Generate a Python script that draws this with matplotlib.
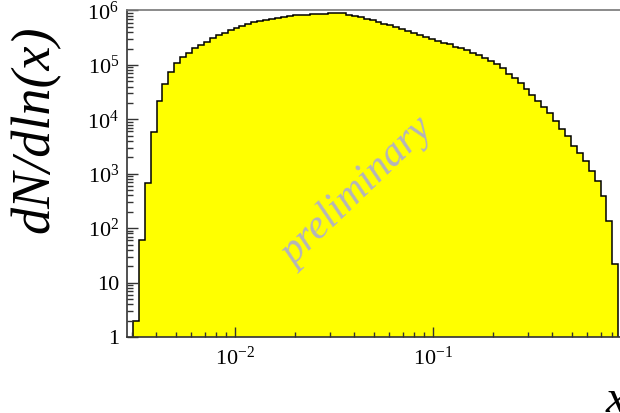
import numpy as np
from matplotlib import pyplot as plt

plt.rcParams['font.family'] = ['Liberation Serif', 'DejaVu Serif']
plt.rcParams['mathtext.fontset'] = 'custom'
plt.rcParams['mathtext.rm'] = 'Liberation Serif'
plt.rcParams['mathtext.it'] = 'Liberation Serif:italic'

#============================================================================
# dados lidos do histograma (82 bins logaritmicos)
#============================================================================
log_x_min = -2.5167     # borda esquerda do primeiro bin
log_x_max = -0.0657     # borda direita do ultimo bin
n_bins = 82

contagens = [
    2.0, 61, 670, 5800, 21800, 45300, 73400, 107500, 137400, 168300,
    202800, 233300, 268000, 309600, 355800, 392600, 439800, 485000, 527600, 567100,
    605000, 640000, 675000, 705000, 735000, 770000, 795000, 812000, 828000, 843000,
    856000, 868000, 878000, 888000, 905000, 905000, 840000, 790000, 760000, 709800,
    680500, 625200, 574300, 537000, 493300, 453100, 421700, 382800, 355800, 331300,
    296500, 276100, 257200, 240300, 216800, 202800, 188800, 164100, 149600, 131600,
    115900, 102100, 86900, 68300, 57000, 46100, 35700, 28100, 21800, 17100,
    12900, 9460, 6580, 4950, 3240, 2380, 1720, 1140, 738, 396,
    136, 21.7,
]

y_ticks = [1, 10, 1e2, 1e3, 1e4, 1e5, 1e6]
y_tick_labels = ['1', '10', '$10^{2}$', '$10^{3}$', '$10^{4}$', '$10^{5}$', '$10^{6}$']
x_ticks = [1e-2, 1e-1]
x_tick_labels = ['$10^{-2}$', '$10^{-1}$']

bordas = np.logspace(log_x_min, log_x_max, n_bins + 1)

fig = plt.figure(figsize=(6.2, 4.13), dpi=100)
# o eixo passa da borda direita da figura (a imagem original foi cortada)
ax = fig.add_axes([0.2056, 0.184, 0.8126, 0.7906])

ax.stairs(contagens, bordas, baseline=1e-3, fill=True, color='#ffff00')
ax.stairs(contagens, bordas, baseline=1e-3, color='black', linewidth=1.1)

ax.set_xscale('log')
ax.set_yscale('log')
ax.set_xlim(10**-2.544, 1.0)
ax.set_ylim(1, 1e6)

ax.set_yticks(y_ticks)
ax.set_yticklabels(y_tick_labels)
ax.set_xticks(x_ticks)
ax.set_xticklabels(x_tick_labels)

ax.tick_params(axis='both', which='both', direction='in', colors='#333333',
               labelcolor='black', labelsize=16)
ax.tick_params(axis='y', which='major', length=8, width=1, pad=6)
ax.tick_params(axis='y', which='minor', length=4.3, width=1)
ax.tick_params(axis='x', which='major', length=7.5, width=1, pad=7)
ax.tick_params(axis='x', which='minor', length=3.8, width=1)

ax.spines['left'].set_color('#333333')
ax.spines['bottom'].set_color('#333333')
ax.spines['top'].set_color('#777777')
ax.spines['right'].set_visible(False)
for lado in ['left', 'bottom', 'top']:
    ax.spines[lado].set_linewidth(1.2)

fig.text(35/620, 1 - 129/413, 'dN/dln(x)', rotation=90, ha='center', va='center',
         fontsize=39, style='italic')
fig.text(606/620, 1 - 412/413, 'x', ha='left', va='baseline',
         fontsize=34, style='italic')
fig.text(357/620, 1 - 192/413, 'preliminary', rotation=44, ha='center', va='center',
         rotation_mode='anchor', fontsize=30, style='italic', color='#b4b4bc')

plt.savefig('out.png', dpi=100)
